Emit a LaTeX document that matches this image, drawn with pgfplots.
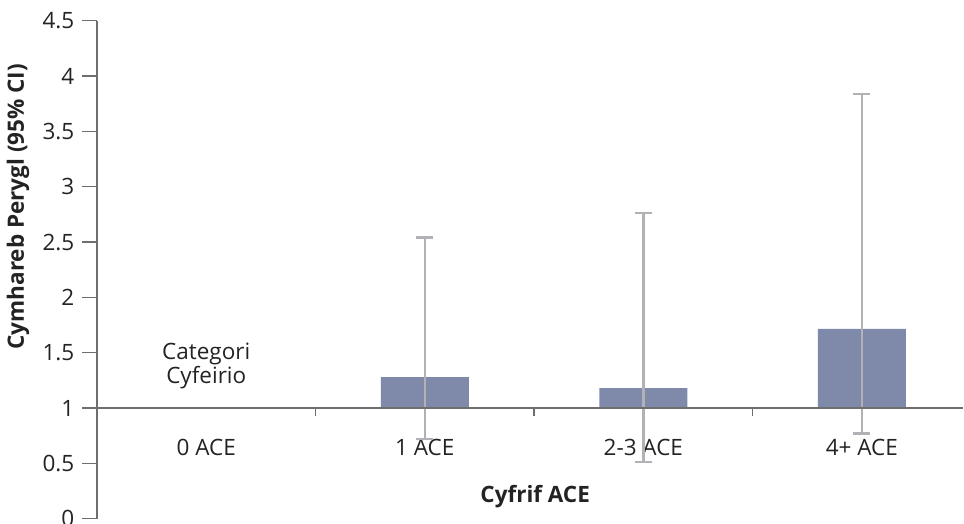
\documentclass[border=0pt]{standalone}
\usepackage{pgfplots}
\pgfplotsset{compat=1.18}
\usepackage{fontspec}
\setmainfont{Open Sans}
\definecolor{barc}{RGB}{127,138,170}
\definecolor{errc}{RGB}{178,178,182}
\definecolor{axc}{RGB}{110,110,110}
\definecolor{txt}{RGB}{35,35,35}
\begin{document}
\fontsize{22.5}{27}\selectfont
\begin{tikzpicture}
\begin{axis}[
  name=ax,
  scale only axis, width=866pt, height=498pt,
  xmin=-0.5, xmax=3.463, ymin=0, ymax=4.5,
  ybar stacked, bar width=0.403,
  axis y line*=left, axis x line*=bottom,
  x axis line style={draw=none},
  y axis line style={axc, line width=1.4pt},
  ytick={0,0.5,1,1.5,2,2.5,3,3.5,4,4.5},
  ytick style={axc, line width=1.2pt},
  tick align=outside, major tick length=15pt,
  xtick={0,1,2,3}, xticklabels={0 ACE,1 ACE,2-3 ACE,4+ ACE},
  xtick style={draw=none},
  x tick label style={anchor=base, yshift=78pt},
  tick label style={text=txt},
  /pgf/number format/assume math mode=true,
  ylabel={\bfseries Cymhareb Perygl (95\% CI)},
  ylabel style={at={(axis description cs:-0.0912,0.6265)}, anchor=center, text=txt},
  xlabel={\bfseries Cyfrif ACE},
  xlabel style={at={(axis description cs:0.506,0.032)}, anchor=base, text=txt},
  clip=false,
]
\draw[axc, line width=1.4pt] (axis cs:-0.5,1) -- (axis cs:3.463,1);
\draw[axc, line width=1.2pt] (axis cs:0.5,1) -- (axis cs:0.5,0.925);
\draw[axc, line width=1.2pt] (axis cs:1.5,1) -- (axis cs:1.5,0.925);
\draw[axc, line width=1.2pt] (axis cs:2.5,1) -- (axis cs:2.5,0.925);
% invisible base (reference value 1)
\addplot[draw=none, fill=none] coordinates {(1,1) (2,1) (3,1)};
% hazard ratio above 1, with 95% CI
\addplot[fill=barc, draw=none,
  error bars/.cd, y dir=both, y explicit,
  error bar style={errc, line width=2.4pt},
  error mark options={errc, line width=2.4pt, mark size=8.5pt, rotate=90}]
  coordinates {
    (1,0.28)  += (0,1.26) -= (0,0.56)
    (2,0.18)  += (0,1.58) -= (0,0.67)
    (3,0.715) += (0,2.12) -= (0,0.945)
  };
\node[align=center, text=txt, font=\fontsize{22.5}{24}\selectfont] at (axis cs:0,1.378) {Categori\\Cyfeirio};
\end{axis}
\pgfresetboundingbox
\path[use as bounding box] ([xshift=-97pt,yshift=-5pt]ax.south west) rectangle ([xshift=1pt,yshift=20.7pt]ax.north east);
\end{tikzpicture}
\end{document}
